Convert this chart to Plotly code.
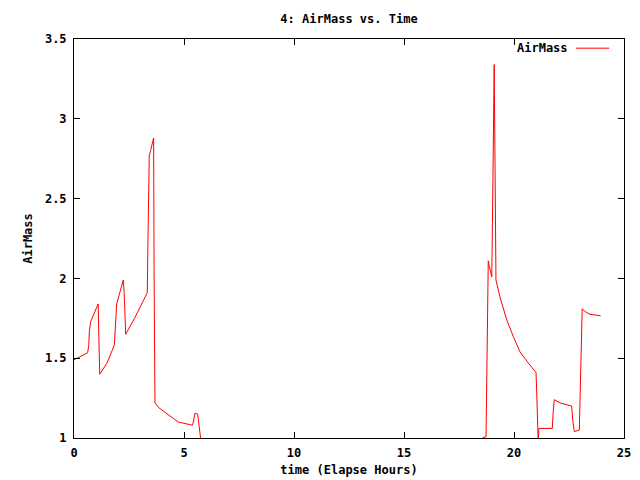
import plotly.graph_objects as go

time_hours = [0.0, 0.62, 0.67, 0.70, 0.76, 0.95, 1.10, 1.13, 1.17, 1.50, 1.83, 1.86, 1.94, 2.10, 2.24, 2.28, 2.31, 2.35, 2.75, 3.15, 3.33, 3.35, 3.39, 3.42, 3.48, 3.58, 3.62, 3.64, 3.68, 3.85, 4.21, 4.74, 5.39, 5.50, 5.62, 5.66, 5.73, 5.80,
              18.55, 18.58, 18.73, 18.76, 18.80, 18.83, 18.87, 18.99, 19.02, 19.06, 19.10, 19.14, 19.18, 19.36, 19.67, 19.97, 20.27, 20.65, 21.00, 21.03, 21.08, 21.10, 21.13, 21.74, 21.78, 21.83, 22.09, 22.40, 22.62, 22.68, 22.74, 22.97, 23.00, 23.04, 23.10, 23.20, 23.45, 23.94]
airmass = [1.49, 1.534, 1.58, 1.67, 1.73, 1.79, 1.84, 1.625, 1.40, 1.47, 1.58, 1.645, 1.84, 1.92, 1.99, 1.91, 1.73, 1.65, 1.75, 1.86, 1.91, 2.115, 2.54, 2.77, 2.80, 2.86, 2.88, 2.05, 1.22, 1.19, 1.155, 1.10, 1.08, 1.155, 1.15, 1.10, 1.03, 0.95,
           0.95, 1.002, 1.008, 1.28, 1.83, 2.11, 2.08, 2.01, 2.345, 3.00, 3.34, 2.67, 1.99, 1.885, 1.74, 1.635, 1.54, 1.47, 1.41, 1.30, 1.10, 0.98, 1.06, 1.06, 1.16, 1.24, 1.22, 1.207, 1.20, 1.10, 1.04, 1.05, 1.24, 1.62, 1.81, 1.795, 1.775, 1.766]

x_ticks = [0, 5, 10, 15, 20, 25]
y_ticks = [1, 1.5, 2, 2.5, 3, 3.5]

FONT = "DejaVu Sans Mono"
TXT = dict(family=FONT, size=12, color="black", weight="bold")

fig = go.Figure()
fig.add_trace(go.Scatter(x=time_hours, y=airmass, mode="lines", name="AirMass",
                         line=dict(color="#ff0000", width=1), showlegend=False))

axis_common = dict(showline=True, linecolor="black", linewidth=1, mirror="allticks",
                   ticks="inside", ticklen=6, tickcolor="black", showgrid=False, zeroline=False,
                   automargin=False, tickfont=TXT)
fig.update_xaxes(range=[0, 25], tickvals=x_ticks, ticktext=[str(v) for v in x_ticks],
                 ticklabelstandoff=4,
                 title=dict(text="time (Elapse Hours)", font=TXT, standoff=6),
                 **axis_common)
fig.update_yaxes(range=[1, 3.5], tickvals=y_ticks, ticktext=["1", "1.5", "2", "2.5", "3", "3.5"],
                 ticklabelstandoff=4,
                 title=dict(text="AirMass", font=TXT, standoff=9),
                 **axis_common)

fig.add_annotation(text="AirMass", xref="paper", yref="paper", x=0.902, y=0.977,
                   xanchor="right", yanchor="middle", showarrow=False, font=TXT)
fig.add_shape(type="line", xref="paper", yref="paper", x0=0.913, x1=0.973, y0=0.977, y1=0.977,
              line=dict(color="#ff0000", width=1))

fig.update_layout(
    width=640, height=480,
    margin=dict(l=74, r=16, t=39, b=42),
    paper_bgcolor="white", plot_bgcolor="white",
    title=dict(text="4: AirMass vs. Time", xref="paper", x=0.5, xanchor="center",
               yref="container", y=0.96, yanchor="middle", font=TXT),
    font=TXT,
)

fig.write_html("out.html")
